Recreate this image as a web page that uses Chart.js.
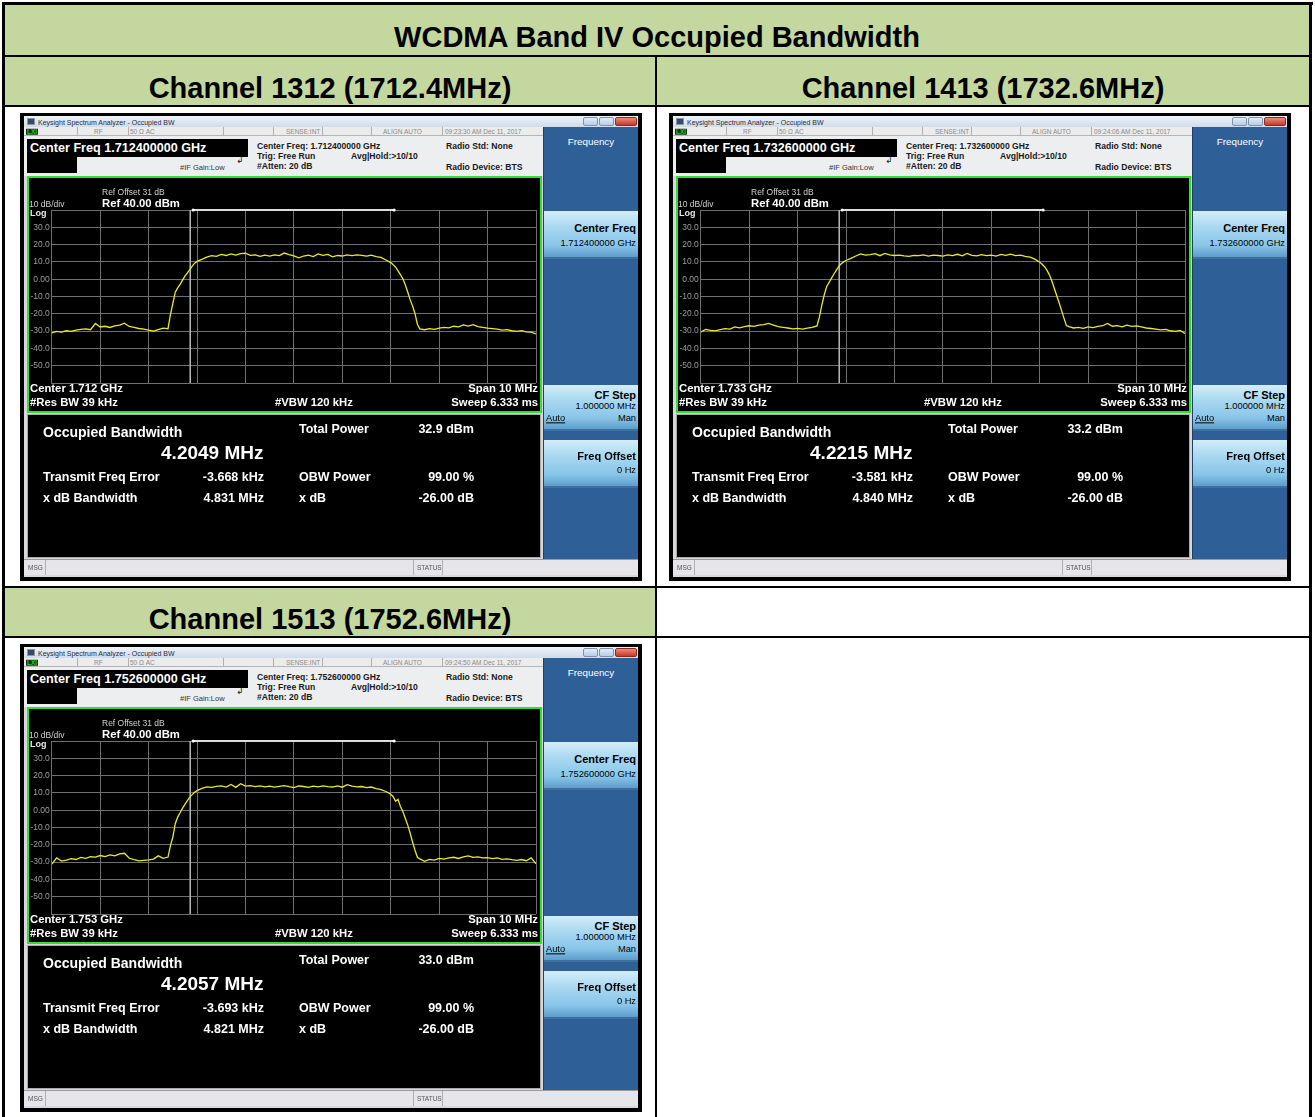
<!DOCTYPE html>
<html>
<head>
<meta charset="utf-8">
<title>WCDMA Band IV Occupied Bandwidth</title>
<script src="https://cdn.jsdelivr.net/npm/chart.js@4.4.1/dist/chart.umd.min.js"></script>
<style>
  html, body { margin: 0; padding: 0; background: #fff; }
  body { position: relative; width: 1315px; height: 1117px; overflow: hidden;
         font-family: "Liberation Sans", Arial, sans-serif; }
  .blk { position: absolute; background: #000; }
  .cell { position: absolute; box-sizing: border-box; padding-top: 14px; display: flex; align-items: center;
          justify-content: center; font-weight: bold; font-size: 29px; color: #000; }
  .green { background: #c4d79e; }
  .scr { position: absolute; width: 622px; height: 468px; background: #000; overflow: hidden; }
  .scr div { position: absolute; box-sizing: border-box; }
  .t { white-space: nowrap; line-height: 1; }
  .win { background: #d6d8db; }
  .titlebar { background: linear-gradient(#eef3f9, #cfdceb); }
  .appicon { background: #3a4a66; border: 1px solid #8899aa; }
  .wbtn { background: linear-gradient(#e2ecf7, #b9cde4); border: 1px solid #7f93ad; border-radius: 2px; }
  .wbtn.close { background: linear-gradient(#ee8a7a, #c8392a); border-color: #8a2a20; }
  .strip { background: #ececec; border-bottom: 1px solid #b5b5b5; }
  .sep { background: #b0b0b0; }
  .info { background: #eceef0; }
  .cfbox { background: #000; }
  .green-box { border: 2px solid #30e030; background: #000; }
  .meas { background: #000; border: 1px solid #a9a9a9; }
  .softkeys { background: #2f5f97; border-left: 1px solid #1f3f66; }
  .skbtn { background: linear-gradient(#d3edf9 0%, #a9d8f1 35%, #88c5e9 75%, #5d9dcc 100%);
           border-bottom: 2px solid #3d6f9f; }
  .statusbar { background: #e6e6ea; border-top: 1px solid #9a9a9a; }
  .plot { background: #000; }
  .tb { font-size: 7px; color: #2a2a3a; }
  .st { font-size: 6.5px; color: #8a8a8a; }
  .lxi { font-size: 6.5px; font-weight: bold; color: #22cc22; background: #123312; padding: 0 1px; }
  .cfb { font-size: 12.6px; font-weight: bold; color: #fff; }
  .ib { font-size: 8.6px; font-weight: bold; color: #1a1a1a; }
  .ir { font-size: 7.5px; color: #333; }
  .trg { font-size: 9px; color: #222; font-family: "DejaVu Sans", sans-serif; }
  .gs { font-size: 8.5px; color: #cfcfcf; }
  .gl { font-size: 9px; font-weight: bold; color: #e8e8e8; }
  .gb { font-size: 11.3px; font-weight: bold; color: #fff; }
  .mb { font-size: 12.5px; font-weight: bold; color: #fff; }
  .mh { font-size: 14px; font-weight: bold; color: #fff; }
  .mbig { font-size: 19px; font-weight: bold; color: #fff; }
  .skh { font-size: 9.8px; color: #fff; }
  .skt { font-size: 11px; font-weight: bold; color: #000; }
  .sks { font-size: 9.3px; color: #000; }
  .sku { font-size: 9.3px; color: #000; text-decoration: underline; }
  .sb { font-size: 6.5px; color: #555; }
</style>
</head>
<body>

<script>
// ---- data read off the three analyzer screens ----
// frequency offset from centre, MHz (span 10 MHz)
const traceMHz = [
  -5.0, -4.9, -4.8, -4.7, -4.6, -4.5, -4.4, -4.3, -4.2, -4.1, -4.0, -3.9, -3.8, -3.7, -3.6,
  -3.5, -3.4, -3.3, -3.2, -3.1, -3.0, -2.9, -2.8, -2.7, -2.6,
  -2.55, -2.5, -2.45, -2.4, -2.35, -2.3, -2.25, -2.2, -2.15, -2.1, -2.05, -2.0,
  -1.9, -1.8, -1.7, -1.6, -1.5, -1.4, -1.3, -1.2, -1.1, -1.0, -0.9, -0.8, -0.7, -0.6, -0.5,
  -0.4, -0.3, -0.2, -0.1, 0.0, 0.1, 0.2, 0.3, 0.4, 0.5, 0.6, 0.7, 0.8, 0.9, 1.0, 1.1, 1.2,
  1.3, 1.4, 1.5, 1.6, 1.7, 1.8, 1.9,
  2.0, 2.05, 2.1, 2.15, 2.2, 2.25, 2.3, 2.35, 2.4, 2.45, 2.5, 2.55,
  2.6, 2.7, 2.8, 2.9, 3.0, 3.1, 3.2, 3.3, 3.4, 3.5, 3.6, 3.7, 3.8, 3.9, 4.0, 4.1, 4.2,
  4.3, 4.4, 4.5, 4.6, 4.7, 4.8, 4.9, 5.0
];

// trace levels, dBm
const trace1312 = [
  -31.0, -30.2, -30.6, -29.8, -30.1, -29.4, -29.0, -28.7, -29.2, -25.6, -27.6, -27.2, -27.9, -27.0, -26.6,
  -25.4, -27.3, -27.8, -28.5, -28.9, -29.4, -30.0, -29.1, -28.3, -28.6,
  -20.5, -14.0, -7.5, -5.0, -3.0, -0.5, 1.8, 3.6, 5.6, 7.6, 9.3, 10.3,
  11.5, 12.8, 13.6, 13.2, 14.3, 13.7, 14.6, 13.9, 14.8, 15.0, 13.8, 14.1, 13.2, 13.9, 13.4,
  14.0, 13.6, 15.1, 14.2, 13.5, 12.3, 13.4, 13.9, 13.1, 14.6, 13.8, 14.3, 12.9, 13.7, 13.4, 14.0, 13.6,
  14.1, 13.8, 13.3, 13.9, 13.0, 12.6, 11.1,
  9.6, 8.4, 6.9, 4.8, 2.6, 0.2, -3.2, -7.4, -11.8, -15.4, -19.8, -26.0,
  -28.7, -29.2, -28.6, -29.0, -28.3, -27.8, -28.1, -27.2, -27.6, -26.4, -27.1, -26.3, -27.4, -27.9, -28.3, -28.6, -28.9,
  -29.4, -29.1, -29.8, -30.2, -29.7, -30.4, -30.6, -31.6
];
const trace1413 = [
  -30.5, -29.0, -29.6, -29.9, -29.2, -28.6, -28.9, -27.6, -28.1, -27.4, -26.9, -27.3, -26.6, -26.2, -25.6,
  -26.5, -27.4, -27.8, -28.2, -28.7, -28.4, -28.9, -28.3, -27.9, -27.0,
  -21.8, -15.0, -9.0, -4.2, -1.8, 0.6, 3.0, 5.2, 7.4, 8.9, 10.0, 10.8,
  12.0, 13.4, 14.6, 13.9, 14.2, 14.8, 13.6, 14.9, 14.1, 13.7, 13.9, 13.5, 13.2, 13.8, 13.6,
  14.1, 13.4, 13.9, 13.7, 13.3, 14.0, 13.6, 14.4, 13.5, 14.9, 13.8, 13.5, 14.2, 13.6, 13.9, 13.4, 14.3,
  13.8, 14.5, 13.6, 13.9, 13.2, 12.7, 11.6,
  9.8, 8.6, 7.2, 5.1, 2.5, -1.0, -5.2, -9.4, -13.6, -18.0, -22.5, -26.8,
  -27.4, -28.2, -27.8, -28.4, -27.6, -28.0, -27.3, -26.9, -25.6, -27.2, -26.8, -27.5, -26.6, -27.3, -27.0, -27.6, -28.2,
  -28.5, -28.9, -29.3, -29.0, -29.8, -30.2, -29.6, -31.4
];
const trace1513 = [
  -31.2, -27.6, -29.4, -28.8, -28.0, -28.5, -27.3, -27.8, -26.9, -27.1, -26.2, -26.8, -25.8, -26.4, -25.2,
  -24.9, -27.8, -28.6, -29.3, -29.0, -28.7, -28.3, -26.4, -27.8, -27.1,
  -20.5, -15.5, -7.8, -4.0, -1.5, 1.2, 3.4, 5.5, 7.6, 9.0, 10.4, 11.3,
  12.6, 13.5, 13.2, 13.8, 14.1, 13.4, 14.9, 13.2, 15.3, 13.9, 14.2, 13.6, 14.0, 13.5, 13.9,
  13.3, 13.8, 14.2, 13.6, 13.1, 14.0, 13.7, 13.2, 13.9, 13.5, 14.1, 13.6, 13.4, 14.0, 13.3, 14.8, 13.9,
  13.5, 13.7, 13.0, 13.4, 12.5, 11.9, 10.8,
  9.2, 7.8, 5.2, 6.3, 2.1, -0.8, -4.6, -8.5, -13.2, -18.4, -23.0, -27.2,
  -28.1, -29.5, -28.4, -28.8, -27.9, -28.3, -27.6, -27.2, -27.9, -27.0, -26.4, -27.3, -27.0, -27.6, -27.4, -28.0, -27.6,
  -28.4, -28.1, -28.6, -29.0, -28.5, -29.2, -27.6, -31.0
];
const traces = [trace1312, trace1413, trace1513];

// OBW markers (MHz offset)
const obwMarkerMHz = [-2.14];
const obwBarMHz = [-2.08, 2.07];

// vertical scale: ref 40 dBm, 10 dB/div
const levelTicks = [30, 20, 10, 0, -10, -20, -30, -40, -50];
const levelTickLabels = ['30.0', '20.0', '10.0', '0.00', '-10.0', '-20.0', '-30.0', '-40.0', '-50.0'];

// table / screen texts
const tableTitle = 'WCDMA Band IV Occupied Bandwidth';
const channelLabels = ['Channel 1312 (1712.4MHz)', 'Channel 1413 (1732.6MHz)', 'Channel 1513 (1752.6MHz)'];
const centerFreqs = ['1.712400000 GHz', '1.732600000 GHz', '1.752600000 GHz'];
const centerShort = ['1.712 GHz', '1.733 GHz', '1.753 GHz'];
const timestamps = ['09:23:30 AM Dec 11, 2017', '09:24:06 AM Dec 11, 2017', '09:24:50 AM Dec 11, 2017'];
const occupiedBW = ['4.2049 MHz', '4.2215 MHz', '4.2057 MHz'];
const totalPower = ['32.9 dBm', '33.2 dBm', '33.0 dBm'];
const freqError = ['-3.668 kHz', '-3.581 kHz', '-3.693 kHz'];
const xdBBandwidth = ['4.831 MHz', '4.840 MHz', '4.821 MHz'];
const obwPower = ['99.00 %', '99.00 %', '99.00 %'];
const xdB = ['-26.00 dB', '-26.00 dB', '-26.00 dB'];

// ---- layout ----
const screenLayout = [[20, 113], [669, 113], [20, 644]];

function box(parent, cls, x, y, w, h) {
  const d = document.createElement('div');
  if (cls) d.className = cls;
  d.style.left = x + 'px';
  d.style.top = y + 'px';
  d.style.width = w + 'px';
  d.style.height = h + 'px';
  parent.appendChild(d);
  return d;
}

// text anchored at x (left / right / centre) and vertical centre y
function txt(parent, text, x, y, cls, align) {
  const d = document.createElement('div');
  d.className = 't ' + cls;
  d.textContent = text;
  d.style.left = x + 'px';
  d.style.top = y + 'px';
  const dx = align === 'r' ? '-100%' : align === 'c' ? '-50%' : '0';
  d.style.transform = 'translate(' + dx + ',-50%)';
  parent.appendChild(d);
  return d;
}

function buildTable() {
  const b = document.body;
  // header cells (text sits low, like spreadsheet cells)
  const title = box(b, 'cell green', 5, 5, 1304, 50);
  title.textContent = tableTitle;
  const c1 = box(b, 'cell green', 5, 57, 650, 48); c1.textContent = channelLabels[0];
  const c2 = box(b, 'cell green', 657, 57, 652, 48); c2.textContent = channelLabels[1];
  const c3 = box(b, 'cell green', 5, 588, 650, 48); c3.textContent = channelLabels[2];
  // rules
  const lines = [
    [2, 2, 1311, 3], [2, 2, 3, 1120], [1309, 2, 3, 1120],
    [2, 55, 1310, 2], [2, 105, 1310, 2], [2, 586, 1310, 2], [2, 636, 1310, 2],
    [655, 55, 2, 1070]
  ];
  lines.forEach(l => box(b, 'blk', l[0], l[1], l[2], l[3]));
}

function buildScreen(i) {
  const s = document.createElement('div');
  s.className = 'scr';
  s.style.left = screenLayout[i][0] + 'px';
  s.style.top = screenLayout[i][1] + 'px';
  document.body.appendChild(s);

  box(s, 'win', 4, 3, 614, 461);

  // window title bar
  box(s, 'titlebar', 4, 3, 614, 11);
  box(s, 'appicon', 7, 5, 8, 7);
  txt(s, 'Keysight Spectrum Analyzer - Occupied BW', 18, 9, 'tb');
  box(s, 'wbtn', 563, 4, 15, 9);
  box(s, 'wbtn', 579, 4, 15, 9);
  box(s, 'wbtn close', 595, 4, 22, 9);

  // status strip
  box(s, 'strip', 4, 14, 519, 9);
  [57, 108, 203, 253, 302, 351, 422].forEach(x => box(s, 'sep', x, 14, 1, 9));
  txt(s, 'LXI', 6, 18.5, 'lxi');
  txt(s, 'RF', 74, 18.5, 'st');
  txt(s, '50 \u03A9  AC', 110, 18.5, 'st');
  txt(s, 'SENSE:INT', 266, 18.5, 'st');
  txt(s, 'ALIGN AUTO', 363, 18.5, 'st');
  txt(s, timestamps[i], 425, 18.5, 'st');

  // measurement setup info
  box(s, 'info', 4, 23, 519, 40);
  box(s, 'cfbox', 7, 26, 221, 18);
  box(s, 'cfbox', 7, 44, 50, 16);
  txt(s, 'Center Freq ' + centerFreqs[i], 10, 35, 'cfb');
  txt(s, '\u21B2', 216, 47, 'trg');
  txt(s, '#IF Gain:Low', 160, 55, 'ir');
  txt(s, 'Center Freq: ' + centerFreqs[i], 237, 33, 'ib');
  txt(s, 'Trig: Free Run', 237, 43, 'ib');
  txt(s, 'Avg|Hold:>10/10', 331, 43, 'ib');
  txt(s, '#Atten: 20 dB', 237, 53, 'ib');
  txt(s, 'Radio Std: None', 426, 33, 'ib');
  txt(s, 'Radio Device: BTS', 426, 54, 'ib');

  // graticule window
  box(s, 'green-box', 7, 63, 515, 237);
  const holder = box(s, 'plot', 9, 65, 511, 233);
  const canvas = document.createElement('canvas');
  holder.appendChild(canvas);
  txt(s, 'Ref Offset 31 dB', 82, 79, 'gs');
  txt(s, 'Ref 40.00 dBm', 82, 90.5, 'gb');
  txt(s, '10 dB/div', 9, 91, 'gs');
  txt(s, 'Log', 10, 100, 'gl');
  txt(s, 'Center  ' + centerShort[i], 10, 275.5, 'gb');
  txt(s, '#Res BW  39 kHz', 10, 289.5, 'gb');
  txt(s, '#VBW  120 kHz', 255, 289.5, 'gb');
  txt(s, 'Span 10 MHz', 518, 275.5, 'gb', 'r');
  txt(s, 'Sweep  6.333 ms', 518, 289.5, 'gb', 'r');

  // results
  box(s, 'meas', 7, 301, 514, 144);
  txt(s, 'Occupied Bandwidth', 23, 318.5, 'mh');
  txt(s, occupiedBW[i], 243.5, 338.5, 'mbig', 'r');
  txt(s, 'Total Power', 279, 315.5, 'mb');
  txt(s, totalPower[i], 454, 315.5, 'mb', 'r');
  txt(s, 'Transmit Freq Error', 23, 363.5, 'mb');
  txt(s, freqError[i], 244, 363.5, 'mb', 'r');
  txt(s, 'OBW Power', 279, 363.5, 'mb');
  txt(s, obwPower[i], 454, 363.5, 'mb', 'r');
  txt(s, 'x dB Bandwidth', 23, 384.5, 'mb');
  txt(s, xdBBandwidth[i], 244, 384.5, 'mb', 'r');
  txt(s, 'x dB', 279, 384.5, 'mb');
  txt(s, xdB[i], 454, 384.5, 'mb', 'r');

  // soft keys
  box(s, 'softkeys', 523, 14, 95, 432);
  txt(s, 'Frequency', 571, 29, 'skh', 'c');
  box(s, 'skbtn', 524, 98, 94, 48);
  txt(s, 'Center Freq', 616, 115, 'skt', 'r');
  txt(s, centerFreqs[i], 616, 131, 'sks', 'r');
  box(s, 'skbtn', 524, 272, 94, 46);
  txt(s, 'CF Step', 616, 282, 'skt', 'r');
  txt(s, '1.000000 MHz', 616, 294, 'sks', 'r');
  txt(s, 'Auto', 526, 306, 'sku');
  txt(s, 'Man', 616, 306, 'sks', 'r');
  box(s, 'skbtn', 524, 327, 94, 48);
  txt(s, 'Freq Offset', 616, 343, 'skt', 'r');
  txt(s, '0 Hz', 616, 358, 'sks', 'r');

  // bottom status bar
  box(s, 'statusbar', 4, 446, 614, 16);
  box(s, 'sep', 25, 447, 1, 15);
  box(s, 'sep', 393, 447, 1, 15);
  box(s, 'sep', 422, 447, 1, 15);
  txt(s, 'MSG', 8, 454.5, 'sb');
  txt(s, 'STATUS', 397, 454.5, 'sb');

  return canvas;
}

function makeChart(canvas, levels) {
  const trace = traceMHz.map((f, k) => ({ x: f, y: levels[k] }));
  const top = 40, bottom = -60;
  const gridColor = '#6f6f6f';
  return new Chart(canvas, {
    type: 'line',
    data: {
      datasets: [
        { data: trace, borderColor: '#e9e92a', borderWidth: 1.3, pointRadius: 0, tension: 0 },
        { data: [{ x: obwMarkerMHz[0], y: top }, { x: obwMarkerMHz[0], y: bottom }],
          borderColor: '#b5b5b5', borderWidth: 1, pointRadius: 0 },
        { data: obwBarMHz.map(f => ({ x: f, y: top })), borderColor: '#dcdcdc', borderWidth: 2,
          pointRadius: 1.6, pointBackgroundColor: '#ffffff', pointBorderWidth: 0, clip: 4 }
      ]
    },
    options: {
      animation: false,
      responsive: true,
      maintainAspectRatio: false,
      layout: { padding: { top: 32, bottom: 28, left: 0, right: 1.4 } },
      plugins: { legend: { display: false }, tooltip: { enabled: false } },
      scales: {
        x: {
          type: 'linear', min: -5, max: 5,
          ticks: { stepSize: 1, display: false },
          grid: { color: gridColor, drawTicks: false },
          border: { display: false },
          afterFit: s => { s.height = 0; }
        },
        y: {
          min: bottom, max: top,
          ticks: {
            stepSize: 10, padding: 2, color: '#9c9c9c',
            font: { size: 8.5, family: 'Liberation Sans' },
            callback: v => {
              const k = levelTicks.indexOf(v);
              return k < 0 ? '' : levelTickLabels[k];
            }
          },
          grid: { color: gridColor, drawTicks: false },
          border: { color: gridColor },
          afterFit: s => { s.width = 22.8; }
        }
      }
    }
  });
}

buildTable();
for (let i = 0; i < 3; i++) {
  const canvas = buildScreen(i);
  makeChart(canvas, traces[i]);
}
</script>
</body>
</html>
